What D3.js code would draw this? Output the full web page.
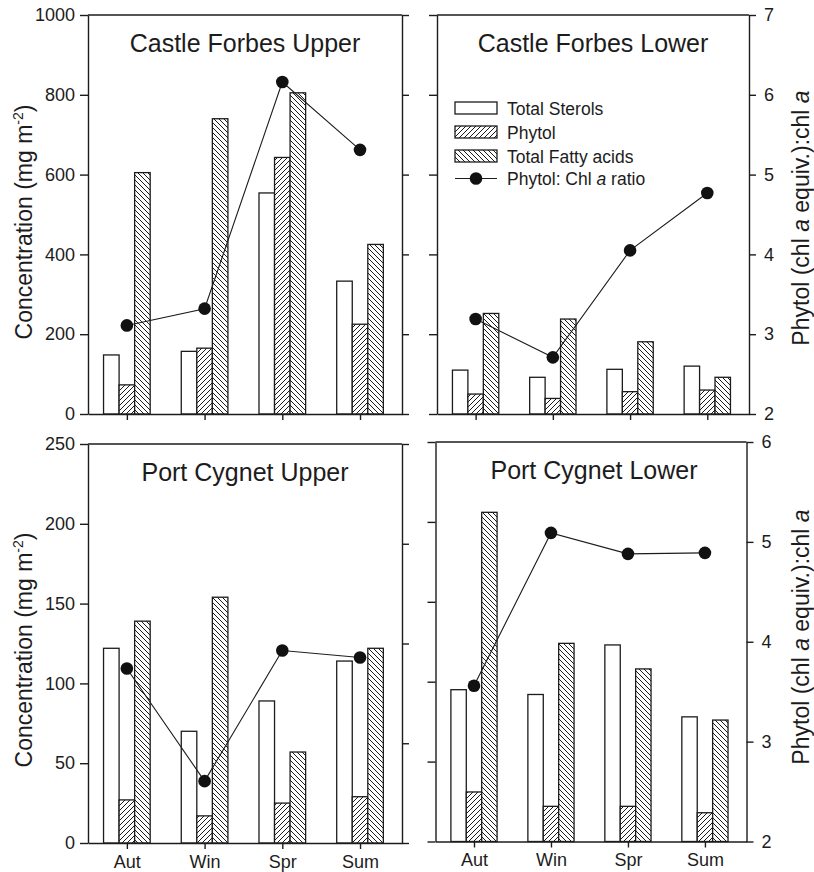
<!DOCTYPE html>
<html>
<head>
<meta charset="utf-8">
<script src="https://cdn.jsdelivr.net/npm/d3@7"></script>
<style>
  html, body { margin: 0; padding: 0; background: #fff; }
  svg { display: block; font-family: "Liberation Sans", Arial, Helvetica, sans-serif; }
</style>
</head>
<body>
<svg id="chart" width="814" height="872"></svg>
<script>
// ---------------- data ----------------
const seasons = ["Aut", "Win", "Spr", "Sum"];
const sites = ["Castle Forbes Upper", "Castle Forbes Lower", "Port Cygnet Upper", "Port Cygnet Lower"];
// concentrations (mg m-2), one row per site, one column per season
const totalSterols = [
  [148, 157, 554, 333],
  [110, 92, 112, 120],
  [122, 70, 89, 114],
  [95, 92, 123, 78]
];
const phytol = [
  [73, 165, 643, 225],
  [50, 39, 56, 60],
  [27, 17, 25, 29],
  [31, 22, 22, 18]
];
const totalFattyAcids = [
  [605, 740, 805, 425],
  [252, 238, 181, 92],
  [139, 154, 57, 122],
  [206, 124, 108, 76]
];
// Phytol : Chl a ratio
const phytolChlRatio = [
  [3.11, 3.32, 6.16, 5.31],
  [3.19, 2.71, 4.05, 4.77],
  [3.75, 2.62, 3.93, 3.86],
  [3.56, 5.09, 4.88, 4.89]
];
const concTicksTop = [0, 200, 400, 600, 800, 1000];
const concTicksBottom = [0, 50, 100, 150, 200, 250];
const ratioTicksTop = [2, 3, 4, 5, 6, 7];
const ratioTicksBottom = [2, 3, 4, 5, 6];
const legendLabels = ["Total Sterols", "Phytol", "Total Fatty acids"];

// ---------------- layout ----------------
const panels = [
  { x0: 88, x1: 402, y0: 15, y1: 414, row: 0, col: 0 },
  { x0: 437, x1: 749, y0: 15, y1: 414, row: 0, col: 1 },
  { x0: 88, x1: 402, y0: 444, y1: 843, row: 1, col: 0 },
  { x0: 435.5, x1: 746.5, y0: 442, y1: 841.5, row: 1, col: 1 }
];
const INK = "#1c1c1c";
const svg = d3.select("#chart");

// hatch patterns
const defs = svg.append("defs");
function hatch(id, d) {
  const p = defs.append("pattern").attr("id", id)
    .attr("patternUnits", "userSpaceOnUse").attr("width", 5).attr("height", 5);
  p.append("rect").attr("width", 5).attr("height", 5).attr("fill", "#fff");
  p.append("path").attr("d", d).attr("stroke", INK).attr("stroke-width", 1).attr("fill", "none");
}
hatch("fwd", "M0,5 L5,0 M-1,1 L1,-1 M4,6 L6,4");
hatch("back", "M0,0 L5,5 M-1,4 L1,6 M4,-1 L6,1");
const fills = ["#fff", "url(#fwd)", "url(#back)"];
const series = [totalSterols, phytol, totalFattyAcids];

panels.forEach((P, pi) => {
  const top = P.row === 0;
  const concMax = top ? 1000 : 250;
  const ratioMax = top ? 7 : 6;
  const x = d3.scaleLinear().domain([0.5, 4.54]).range([P.x0, P.x1]);
  const yC = d3.scaleLinear().domain([0, concMax]).range([P.y1, P.y0]);
  const yR = d3.scaleLinear().domain([2, ratioMax]).range([P.y1, P.y0]);
  const g = svg.append("g");

  // bars
  series.forEach((s, k) => {
    g.selectAll(null).data(s[pi]).enter().append("rect")
      .attr("x", (d, i) => x(i + 1 - 0.3 + k * 0.2))
      .attr("width", (d, i) => x(i + 1 - 0.1 + k * 0.2) - x(i + 1 - 0.3 + k * 0.2))
      .attr("y", d => yC(d))
      .attr("height", d => yC(0) - yC(d))
      .attr("fill", fills[k])
      .attr("stroke", INK).attr("stroke-width", 1.3);
  });

  // axes
  const leftAxis = d3.axisLeft(yC).tickValues(top ? concTicksTop : concTicksBottom)
    .tickSize(8).tickSizeOuter(0).tickPadding(5)
    .tickFormat(P.col === 0 ? d3.format("d") : () => "");
  const rightAxis = d3.axisRight(yR).tickValues(top ? ratioTicksTop : ratioTicksBottom)
    .tickSize(7).tickSizeOuter(0).tickPadding(8)
    .tickFormat(P.col === 1 ? d3.format("d") : () => "");
  const bottomAxis = d3.axisBottom(x).tickValues([1, 2, 3, 4])
    .tickSize(6).tickSizeOuter(0).tickPadding(6)
    .tickFormat(P.row === 1 ? (d => seasons[d - 1]) : () => "");

  const axes = [
    g.append("g").attr("transform", `translate(${P.x0},0)`).call(leftAxis),
    g.append("g").attr("transform", `translate(${P.x1},0)`).call(rightAxis),
    g.append("g").attr("transform", `translate(0,${P.y1})`).call(bottomAxis)
  ];
  axes.forEach(a => {
    a.selectAll("path, line").attr("stroke", INK).attr("stroke-width", 1.4);
    a.selectAll("text").attr("fill", INK).attr("font-size", 18)
      .attr("font-family", "'Liberation Sans', Arial, sans-serif");
  });
  g.append("line").attr("x1", P.x0).attr("x2", P.x1).attr("y1", P.y0).attr("y2", P.y0)
    .attr("stroke", INK).attr("stroke-width", 1.4);

  // ratio line + markers
  const line = d3.line().x((d, i) => x(i + 1)).y(d => yR(d));
  g.append("path").attr("d", line(phytolChlRatio[pi]))
    .attr("fill", "none").attr("stroke", INK).attr("stroke-width", 1.1);
  g.selectAll(null).data(phytolChlRatio[pi]).enter().append("circle")
    .attr("cx", (d, i) => x(i + 1)).attr("cy", d => yR(d)).attr("r", 6.3)
    .attr("fill", "#111");

  // title
  g.append("text").attr("x", (P.x0 + P.x1) / 2 + (P.row === 1 && P.col === 1 ? 3 : 0))
    .attr("y", P.y0 + (top ? 37 : 37))
    .attr("text-anchor", "middle").attr("font-size", 25).attr("fill", INK)
    .text(sites[pi]);

  // axis titles
  if (P.col === 0) {
    const t = g.append("text")
      .attr("transform", `translate(32,${top ? 222 : 650}) rotate(-90)`)
      .attr("text-anchor", "middle").attr("font-size", 23).attr("fill", INK);
    t.append("tspan").text("Concentration (mg m");
    t.append("tspan").attr("font-size", 14).attr("dy", -9).text("-2");
    t.append("tspan").attr("dy", 9).text(")");
  } else {
    const t = g.append("text")
      .attr("transform", `translate(809,${top ? 218 : 637}) rotate(-90)`)
      .attr("text-anchor", "middle").attr("font-size", 23).attr("fill", INK);
    t.append("tspan").text("Phytol (chl ");
    t.append("tspan").attr("font-style", "italic").text("a");
    t.append("tspan").text(" equiv.):chl ");
    t.append("tspan").attr("font-style", "italic").text("a");
  }
});

// legend (in Castle Forbes Lower panel)
const lg = svg.append("g").attr("transform", "translate(455,102)");
legendLabels.forEach((lab, k) => {
  lg.append("rect").attr("x", 0).attr("y", k * 24).attr("width", 42).attr("height", 12)
    .attr("fill", fills[k]).attr("stroke", INK).attr("stroke-width", 1.3);
  lg.append("text").attr("x", 52).attr("y", k * 24 + 12.5).attr("font-size", 17.5)
    .attr("fill", INK).text(lab);
});
lg.append("line").attr("x1", 0).attr("x2", 42).attr("y1", 76.5).attr("y2", 76.5)
  .attr("stroke", INK).attr("stroke-width", 1.1);
lg.append("circle").attr("cx", 21).attr("cy", 76.5).attr("r", 6.3).attr("fill", "#111");
const lt = lg.append("text").attr("x", 52).attr("y", 82.5).attr("font-size", 17.5).attr("fill", INK);
lt.append("tspan").text("Phytol: Chl ");
lt.append("tspan").attr("font-style", "italic").text("a");
lt.append("tspan").text(" ratio");
</script>
</body>
</html>
